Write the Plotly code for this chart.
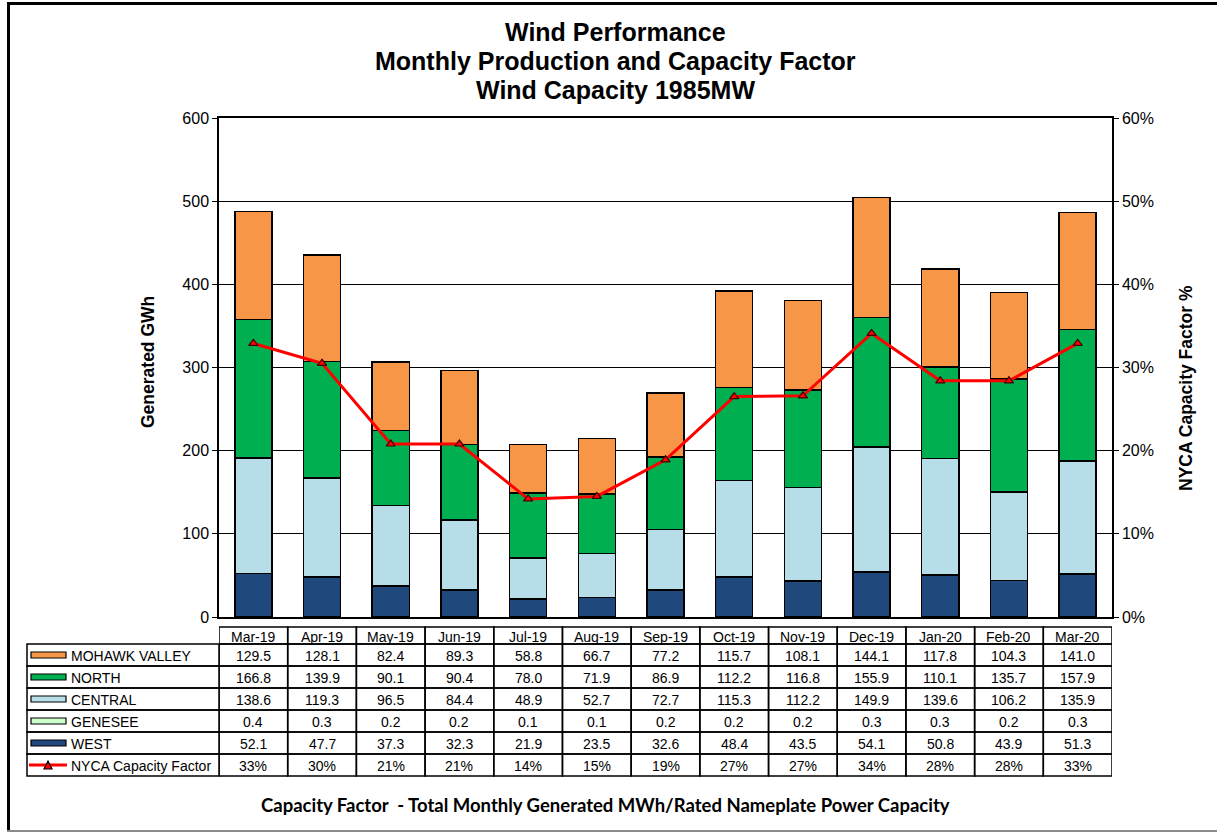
import plotly.graph_objects as go

months = ["Mar-19", "Apr-19", "May-19", "Jun-19", "Jul-19", "Aug-19", "Sep-19",
          "Oct-19", "Nov-19", "Dec-19", "Jan-20", "Feb-20", "Mar-20"]
mohawk = [129.5, 128.1, 82.4, 89.3, 58.8, 66.7, 77.2, 115.7, 108.1, 144.1, 117.8, 104.3, 141.0]
north = [166.8, 139.9, 90.1, 90.4, 78.0, 71.9, 86.9, 112.2, 116.8, 155.9, 110.1, 135.7, 157.9]
central = [138.6, 119.3, 96.5, 84.4, 48.9, 52.7, 72.7, 115.3, 112.2, 149.9, 139.6, 106.2, 135.9]
genesee = [0.4, 0.3, 0.2, 0.2, 0.1, 0.1, 0.2, 0.2, 0.2, 0.3, 0.3, 0.2, 0.3]
west = [52.1, 47.7, 37.3, 32.3, 21.9, 23.5, 32.6, 48.4, 43.5, 54.1, 50.8, 43.9, 51.3]
cap_factor = [0.329, 0.305, 0.208, 0.208, 0.142, 0.145, 0.189, 0.265, 0.266, 0.341, 0.284, 0.284, 0.329]
cap_labels = ["33%", "30%", "21%", "21%", "14%", "15%", "19%", "27%", "27%", "34%", "28%", "28%", "33%"]
title_lines = ["Wind Performance", "Monthly Production and Capacity Factor", "Wind Capacity 1985MW"]

series = [
    ("WEST", west, "#1F497D"),
    ("GENESEE", genesee, "#CCFFCC"),
    ("CENTRAL", central, "#B7DEE8"),
    ("NORTH", north, "#00B050"),
    ("MOHAWK VALLEY", mohawk, "#F79646"),
]

FONT = "Liberation Sans, Arial, sans-serif"
W, H = 1217, 832
L, R, T, B = 219, 1112, 118, 617

def xp(px):
    return (px - L) / (R - L)

def yp(py):
    return (B - py) / (B - T)

fig = go.Figure()
for name, vals, col in series:
    fig.add_trace(go.Bar(x=months, y=vals, name=name, marker=dict(color=col, line=dict(color="black", width=1.5)),
                         width=0.54, showlegend=False))
fig.add_trace(go.Scatter(x=months, y=cap_factor, yaxis="y2", mode="lines+markers", name="NYCA Capacity Factor",
                         line=dict(color="#FF0000", width=3),
                         marker=dict(symbol="triangle-up", size=8, color="#FF0000", line=dict(color="#400000", width=1.2)),
                         showlegend=False))

shapes = []
annotations = []

def ann(x, y, text, size=14, xref="paper", xanchor="center", family=FONT, **kw):
    annotations.append(dict(x=x, y=y, xref=xref, yref="paper", text=text, showarrow=False,
                            xanchor=xanchor, yanchor="middle",
                            font=dict(size=size, color="black", family=family), **kw))

# outer frame (left & top black, bottom grey)
shapes.append(dict(type="line", xref="paper", yref="paper", x0=xp(8.5), x1=xp(8.5), y0=yp(831), y1=yp(3),
                   line=dict(color="black", width=3)))
shapes.append(dict(type="line", xref="paper", yref="paper", x0=xp(7), x1=xp(1220), y0=yp(3.5), y1=yp(3.5),
                   line=dict(color="black", width=3)))
shapes.append(dict(type="line", xref="paper", yref="paper", x0=xp(7), x1=xp(1220), y0=yp(831), y1=yp(831),
                   line=dict(color="#8a8a8a", width=2)))

# table
row_bounds = [644, 666, 688, 710, 732, 754, 776]
header_top = 627
rows = [
    ("MOHAWK VALLEY", [f"{v:.1f}" for v in mohawk], "#F79646"),
    ("NORTH", [f"{v:.1f}" for v in north], "#00B050"),
    ("CENTRAL", [f"{v:.1f}" for v in central], "#B7DEE8"),
    ("GENESEE", [f"{v:.1f}" for v in genesee], "#CCFFCC"),
    ("WEST", [f"{v:.1f}" for v in west], "#1F497D"),
    ("NYCA Capacity Factor", cap_labels, None),
]
for i, m in enumerate(months):
    shapes.append(dict(type="rect", xref="x", yref="paper", x0=i - 0.5, x1=i + 0.5,
                       y0=yp(row_bounds[0]), y1=yp(header_top), line=dict(color="black", width=1.5)))
    ann(i, yp((header_top + row_bounds[0]) / 2 + 1), m, xref="x")
for r, (label, vals, col) in enumerate(rows):
    top, bot = row_bounds[r], row_bounds[r + 1]
    cpx = (top + bot) / 2
    cy = yp(cpx)
    shapes.append(dict(type="rect", xref="paper", yref="paper", x0=xp(27), x1=xp(L), y0=yp(bot), y1=yp(top),
                       line=dict(color="black", width=1.5)))
    for i, v in enumerate(vals):
        shapes.append(dict(type="rect", xref="x", yref="paper", x0=i - 0.5, x1=i + 0.5,
                           y0=yp(bot), y1=yp(top), line=dict(color="black", width=1.5)))
        ann(i, yp(cpx + 1), v, xref="x")
    if col:
        shapes.append(dict(type="rect", xref="paper", yref="paper", x0=xp(31), x1=xp(66),
                           y0=yp(cpx + 3), y1=yp(cpx - 3),
                           fillcolor=col, line=dict(color="black", width=1.2)))
    else:
        shapes.append(dict(type="line", xref="paper", yref="paper", x0=xp(29), x1=xp(67), y0=cy, y1=cy,
                           line=dict(color="#FF0000", width=3)))
        shapes.append(dict(type="path", xref="paper", yref="paper",
                           path=f"M {xp(44)},{yp(cpx+4)} L {xp(52)},{yp(cpx+4)} L {xp(48)},{yp(cpx-4)} Z",
                           fillcolor="#FF0000", line=dict(color="black", width=1.2)))
    ann(xp(69), yp(cpx + 1), label, xanchor="left")

# axis titles
ann(xp(148), yp(362), "<b>Generated GWh</b>", size=17.5, textangle=-90)
ann(xp(1186), yp(388), "<b>NYCA Capacity Factor %</b>", size=17.5, textangle=-90)
# caption
ann(xp(605), yp(805), "<b>Capacity Factor  - Total Monthly Generated MWh/Rated Nameplate Power Capacity</b>",
    size=18.5, family="Lato, Liberation Sans, sans-serif")
# title
for k, (line, py) in enumerate(zip(title_lines, [32, 61, 90])):
    ann(xp(615), yp(py), f"<b>{line}</b>", size=25)

fig.update_layout(
    width=W, height=H,
    margin=dict(l=L, r=W - R, t=T, b=H - B, pad=0),
    paper_bgcolor="white", plot_bgcolor="white",
    barmode="stack", bargap=0.46,
    font=dict(family=FONT, color="black"),
    xaxis=dict(type="category", range=[-0.5, 12.5], showticklabels=False, showline=True, linecolor="black",
               linewidth=1.5, mirror=True, ticks="", showgrid=False, fixedrange=True),
    yaxis=dict(range=[0, 600], dtick=100, showgrid=True, gridcolor="black", gridwidth=1, showline=True,
               linecolor="black", linewidth=1.5, ticks="outside", ticklen=5, tickcolor="black",
               tickfont=dict(size=16, color="black", family=FONT), zeroline=False),
    yaxis2=dict(range=[0, 0.6], dtick=0.1, tickformat=".0%", overlaying="y", side="right", showgrid=False,
                showline=True, linecolor="black", linewidth=1.5, ticks="outside", ticklen=5, tickcolor="black",
                tickfont=dict(size=16, color="black", family=FONT), zeroline=False),
    shapes=shapes, annotations=annotations,
)

fig.write_html("out.html", config={"displayModeBar": False},
               post_script="document.body.style.margin='0';document.body.style.overflow='hidden';")
